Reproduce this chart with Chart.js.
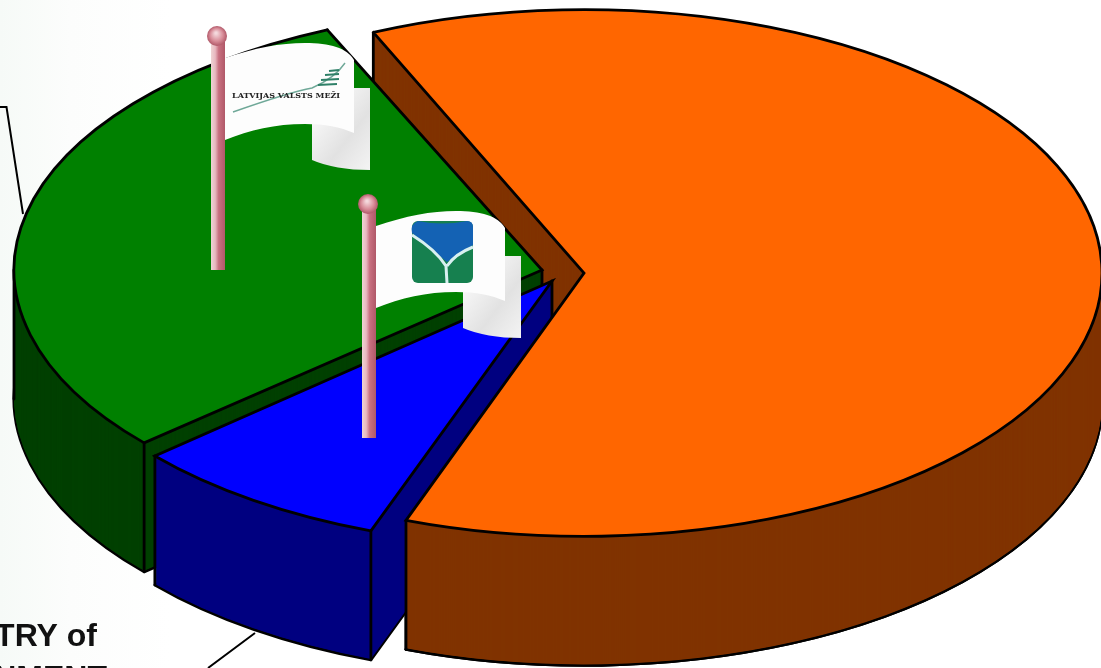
<!DOCTYPE html>
<html>
<head>
<meta charset="utf-8">
<title>Pie</title>
<script src="https://cdn.jsdelivr.net/npm/chart.js@4"></script>
<style>
    html, body { margin: 0; padding: 0; overflow: hidden; }
    body { width: 1101px; height: 668px; background: linear-gradient(to right, #f6faf7, #fcfdfc 70px, #ffffff 170px); }
    canvas { display: block; }
</style>
</head>
<body>
<canvas id="pie" width="1101" height="668"></canvas>
<script>
// values (share of the ring, clockwise from the orange slice)
const categories = ['Orange slice', 'MINISTRY of ENVIRONMENT', 'LATVIJAS VALSTS MEZI'];
const shares = [62.25, 8.0, 29.75];
const topColors = ['#ff6600', '#0000ff', '#008000'];
const sideColors = ['#803300', '#000080', '#004000'];

// exploded 3D look: where each slice's tip lands, how wide and how flat it is
const tipX = [584, 552, 542];
const tipY = [273, 281, 270];
const radiusX = [518, 527, 528];
const tilt = [0.5085, 0.505, 0.498];
const DEPTH = 129;
const LINE = 2.8;

const ORANGE = 0, BLUE = 1, GREEN = 2;

function cornerOf(i, angle) {
    return {
        x: tipX[i] + Math.cos(angle) * radiusX[i],
        y: tipY[i] + Math.sin(angle) * radiusX[i] * tilt[i]
    };
}

function paintArc(ctx, arc, i, dy, color, border, join) {
    const saved = arc.options;
    const scale = radiusX[i] / arc.outerRadius;
    arc.options = { ...saved, backgroundColor: color, borderColor: '#000', borderWidth: border, borderJoinStyle: join };
    ctx.save();
    ctx.translate(tipX[i], tipY[i] + dy);
    ctx.scale(scale, scale * tilt[i]);
    ctx.translate(-arc.x, -arc.y);
    // keep the outline even although the arc is squashed
    const stroke = ctx.stroke;
    ctx.stroke = function () {
        ctx.save();
        ctx.setTransform(1, 0, 0, 1, 0, 0);
        stroke.call(ctx);
        ctx.restore();
    };
    arc.draw(ctx);
    delete ctx.stroke;
    ctx.restore();
    arc.options = saved;
}

function drop(ctx, x, y) {
    ctx.beginPath();
    ctx.moveTo(x, y);
    ctx.lineTo(x, y + DEPTH);
    ctx.stroke();
}

function paintSide(ctx, arc, i) {
    paintArc(ctx, arc, i, DEPTH, sideColors[i], LINE, 'round');
    for (let dy = DEPTH - 1; dy > 0; dy--) {
        paintArc(ctx, arc, i, dy, sideColors[i], 0, 'round');
    }
    ctx.save();
    ctx.strokeStyle = '#000';
    ctx.lineWidth = LINE;
    ctx.lineCap = 'round';
    drop(ctx, tipX[i], tipY[i]);
    [arc.startAngle, arc.endAngle].forEach(a => {
        const c = cornerOf(i, a);
        drop(ctx, c.x, c.y);
    });
    if (i === GREEN) drop(ctx, tipX[i] - radiusX[i], tipY[i]);
    ctx.restore();
}

const slicesPlugin = {
    id: 'slices',
    beforeDatasetDraw(chart, args) {
        const ctx = chart.ctx;
        const arcs = args.meta.data;

        paintSide(ctx, arcs[ORANGE], ORANGE);

        paintSide(ctx, arcs[GREEN], GREEN);
        paintArc(ctx, arcs[GREEN], GREEN, 0, topColors[GREEN], LINE, 'miter');

        paintSide(ctx, arcs[BLUE], BLUE);
        paintArc(ctx, arcs[BLUE], BLUE, 0, topColors[BLUE], LINE, 'miter');

        // the orange wall stands in front of the blue one
        const end = cornerOf(ORANGE, arcs[ORANGE].endAngle);
        ctx.save();
        ctx.beginPath();
        ctx.moveTo(end.x - 2, end.y);
        ctx.lineTo(tipX[ORANGE], tipY[ORANGE]);
        ctx.lineTo(1200, tipY[ORANGE]);
        ctx.lineTo(1200, 700);
        ctx.lineTo(end.x - 2, 700);
        ctx.closePath();
        ctx.clip();
        paintSide(ctx, arcs[ORANGE], ORANGE);
        ctx.restore();

        paintArc(ctx, arcs[ORANGE], ORANGE, 0, topColors[ORANGE], LINE, 'miter');
        return false;
    },
    afterDatasetsDraw(chart) {
        const ctx = chart.ctx;
        drawLeaders(ctx);
        drawFlag(ctx, 0, 0);
        drawForestLogo(ctx);
        drawFlag(ctx, 151, 168);
        drawMinistryLogo(ctx);
    }
};

function drawLeaders(ctx) {
    ctx.save();
    ctx.strokeStyle = '#000';
    ctx.lineWidth = 2;
    ctx.beginPath();
    ctx.moveTo(0, 107);
    ctx.lineTo(6.5, 107);
    ctx.lineTo(23, 214);
    ctx.moveTo(255, 633);
    ctx.lineTo(208, 668);
    ctx.stroke();

    ctx.fillStyle = '#111';
    ctx.font = 'bold 32px "Liberation Sans", Arial, sans-serif';
    ctx.textAlign = 'right';
    ctx.textBaseline = 'alphabetic';
    ctx.fillText('MINISTRY of', 97, 646);
    ctx.fillText('ENVIRONMENT', 107, 688);
    ctx.restore();
}

function drawFlag(ctx, ox, oy) {
    ctx.save();
    ctx.translate(ox, oy);

    // pole
    const pole = ctx.createLinearGradient(211, 0, 225, 0);
    pole.addColorStop(0, '#eed4d4');
    pole.addColorStop(0.3, '#e8b8c0');
    pole.addColorStop(0.55, '#c87080');
    pole.addColorStop(1, '#b05868');
    ctx.fillStyle = pole;
    ctx.fillRect(211, 36, 14, 234);

    const ball = ctx.createRadialGradient(216, 33, 1, 217, 36, 10);
    ball.addColorStop(0, '#f4d8dc');
    ball.addColorStop(0.6, '#d88c98');
    ball.addColorStop(1, '#b05868');
    ctx.fillStyle = ball;
    ctx.beginPath();
    ctx.arc(217, 36, 10, 0, Math.PI * 2);
    ctx.fill();

    // folded back of the cloth
    const fold = ctx.createLinearGradient(312, 125, 370, 170);
    fold.addColorStop(0, '#f6f6f6');
    fold.addColorStop(0.5, '#e2e2e2');
    fold.addColorStop(1, '#f4f4f4');
    ctx.fillStyle = fold;
    ctx.beginPath();
    ctx.moveTo(312, 120);
    ctx.lineTo(312, 160);
    ctx.quadraticCurveTo(335, 170, 370, 170);
    ctx.lineTo(370, 88);
    ctx.lineTo(350, 88);
    ctx.closePath();
    ctx.fill();

    // front of the cloth
    ctx.fillStyle = '#fdfdfd';
    ctx.beginPath();
    ctx.moveTo(225, 58);
    ctx.bezierCurveTo(255, 48, 280, 43, 305, 43);
    ctx.bezierCurveTo(330, 43, 347, 48, 354, 60);
    ctx.lineTo(354, 133);
    ctx.bezierCurveTo(340, 127, 325, 124, 305, 124);
    ctx.bezierCurveTo(275, 124, 250, 130, 225, 140);
    ctx.closePath();
    ctx.fill();
    ctx.restore();
}

function drawForestLogo(ctx) {
    ctx.save();
    ctx.strokeStyle = '#6fa898';
    ctx.lineWidth = 1.4;
    ctx.beginPath();
    ctx.moveTo(233, 112);
    ctx.quadraticCurveTo(290, 92, 312, 88);
    ctx.quadraticCurveTo(335, 78, 345, 63);
    ctx.stroke();
    ctx.strokeStyle = '#2f8068';
    ctx.lineWidth = 2.2;
    ctx.beginPath();
    ctx.moveTo(318, 85); ctx.lineTo(337, 84);
    ctx.moveTo(321, 80); ctx.lineTo(339, 79);
    ctx.moveTo(325, 75); ctx.lineTo(339, 74);
    ctx.moveTo(329, 71); ctx.lineTo(339, 70);
    ctx.stroke();

    ctx.fillStyle = '#222';
    ctx.font = 'bold 8px "DejaVu Serif", serif';
    ctx.textAlign = 'left';
    ctx.textBaseline = 'middle';
    ctx.fillText('LATVIJAS VALSTS MEŽI', 232, 96);
    ctx.restore();
}

function drawMinistryLogo(ctx) {
    ctx.save();
    ctx.fillStyle = '#16804f';
    ctx.beginPath();
    ctx.roundRect(412, 221, 61, 62, 6);
    ctx.fill();

    ctx.fillStyle = '#1462b4';
    ctx.beginPath();
    ctx.moveTo(418, 221);
    ctx.quadraticCurveTo(442, 226, 467, 221);
    ctx.quadraticCurveTo(473, 221, 473, 227);
    ctx.lineTo(473, 245);
    ctx.lineTo(447, 262);
    ctx.lineTo(412, 233);
    ctx.quadraticCurveTo(410, 224, 418, 221);
    ctx.fill();

    ctx.strokeStyle = '#d8f0f0';
    ctx.lineWidth = 3;
    ctx.beginPath();
    ctx.moveTo(412, 235);
    ctx.quadraticCurveTo(436, 250, 446, 266);
    ctx.lineTo(447, 283);
    ctx.moveTo(473, 247);
    ctx.quadraticCurveTo(455, 254, 447, 266);
    ctx.stroke();
    ctx.restore();
}

new Chart(document.getElementById('pie').getContext('2d'), {
    type: 'pie',
    plugins: [slicesPlugin],
    data: {
        labels: categories,
        datasets: [{ data: shares, backgroundColor: topColors, borderWidth: 0, clip: false }]
    },
    options: {
        responsive: false,
        animation: false,
        rotation: -24,
        radius: 300,
        events: [],
        plugins: { legend: { display: false }, tooltip: { enabled: false } }
    }
});
</script>
</body>
</html>
